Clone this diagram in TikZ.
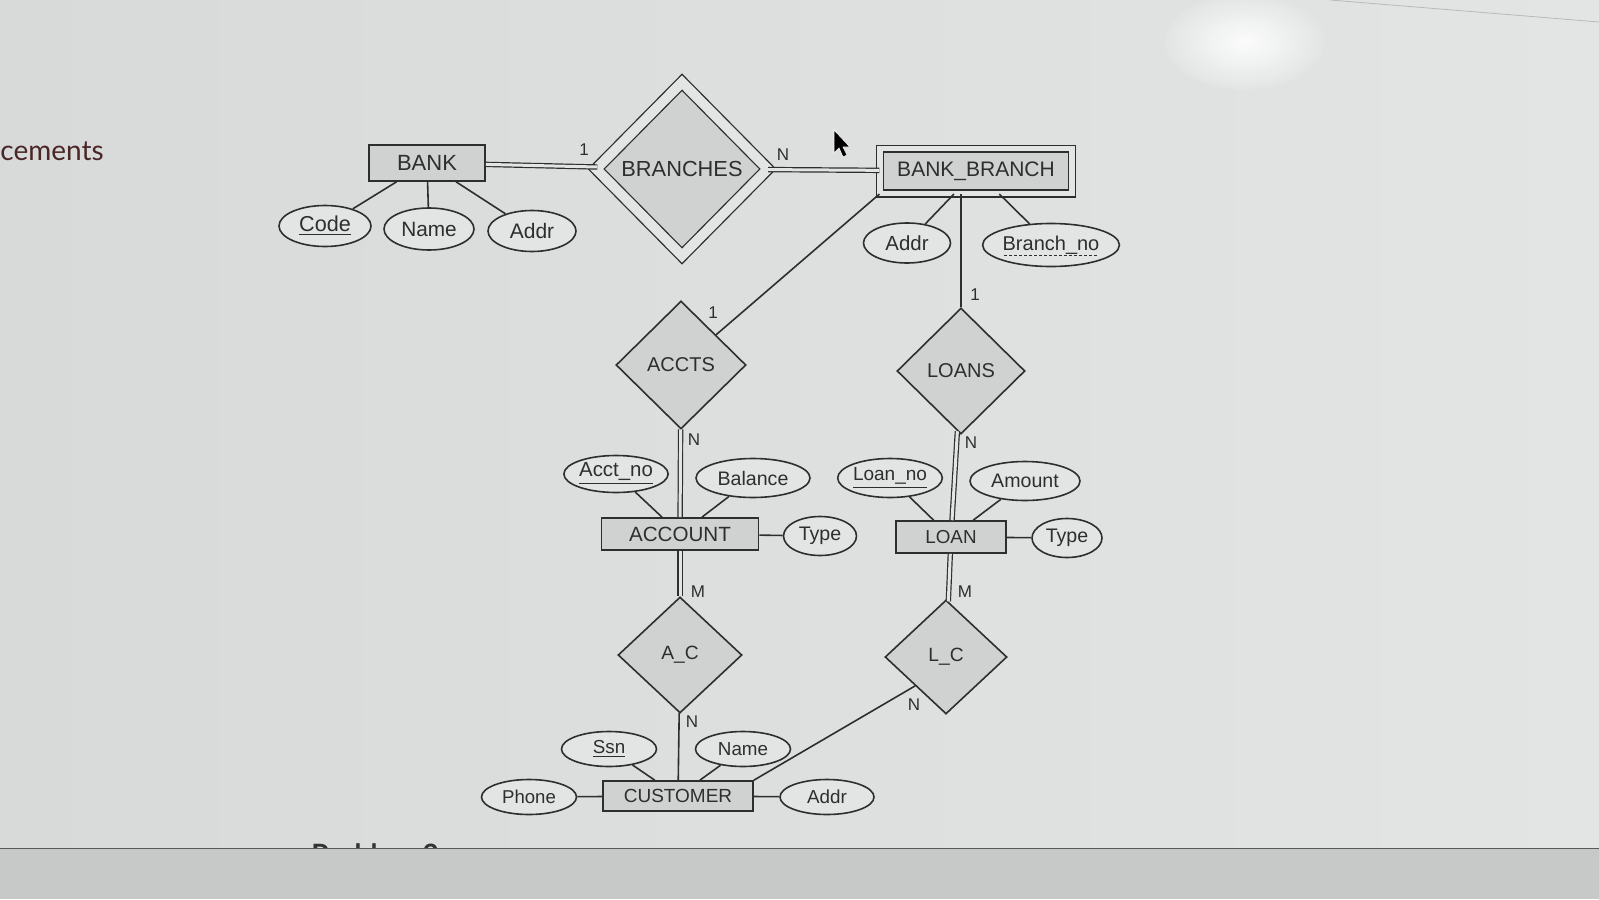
\documentclass[tikz,border=0pt]{standalone}
\usepackage{fontspec}
\setmainfont{Liberation Sans}
\newfontfamily\notefont{Lato}
\usepackage{tikz}
\usetikzlibrary{shapes.geometric,positioning}

\definecolor{paper}{HTML}{E3E5E5}
\definecolor{paperdark}{HTML}{D8DADA}
\definecolor{band}{HTML}{C7C9C9}
\definecolor{boxfill}{HTML}{D0D1D1}
\definecolor{ink}{HTML}{2E2E2E}
\definecolor{notecol}{HTML}{4A2626}

\begin{document}
\begin{tikzpicture}[x=0.5pt,y=-0.5pt,
    entity/.style={draw=ink, fill=boxfill, line width=0.8pt, inner sep=0pt, text=ink, font=\fontsize{10}{12}\selectfont},
    weakent/.style={entity, double=paper, double distance=2.8pt, line width=0.65pt},
    rel/.style={draw=ink, fill=boxfill, diamond, shape aspect=1, inner sep=0pt, line width=0.8pt, text=ink, font=\fontsize{10}{12}\selectfont},
    idrel/.style={rel, double=paper, double distance=4.9pt, line width=0.65pt},
    attr/.style={draw=ink, fill=paper, ellipse, inner sep=0pt, line width=0.8pt, text=ink, font=\fontsize{9.8}{11}\selectfont},
    card/.style={font=\fontsize{8.5}{10}\selectfont, inner sep=0pt, text=ink},
    link/.style={draw=ink, line width=0.8pt},
    total/.style={draw=ink, line width=0.6pt, double=paper, double distance=1.5pt}]
  \useasboundingbox (0,0) rectangle (1599,899);
  % screen
  \shade[left color=paperdark, right color=paper] (0,0) rectangle (1599,848);
  \shade[inner color=white, outer color=paper, opacity=0.9] (1245,42) ellipse (80 and 48);
  \draw[gray!55, line width=0.4pt] (1330,0) -- (1599,22);
  \node[anchor=base west, inner sep=0pt, font=\notefont\fontsize{14}{16}\selectfont, text=notecol] (margin) at (0,160) {cements};
  \node[anchor=base west, inner sep=0pt, font=\notefont\bfseries\fontsize{14}{16}\selectfont, text=black!80] (prob) at (311,864) {Problem 2:};
  \fill[band] (0,848) rectangle (1599,899);
  \draw[gray!70!black, line width=0.4pt] (0,848) -- (1599,848);

  % bank and branches
  \node[entity, minimum width=58pt, minimum height=18pt, font=\fontsize{11}{13}\selectfont] (bank) at (427,163) {BANK};
  \node[idrel, minimum width=86pt, minimum height=87pt, font=\fontsize{10.9}{13}\selectfont] (branches) at (682,169) {BRANCHES};
  \node[weakent, minimum width=95.9pt, minimum height=22.4pt, font=\fontsize{10.5}{12}\selectfont] (bb) at (976,171) {BANK\_BRANCH};
  \node[attr, minimum width=46pt, minimum height=20.5pt, font=\fontsize{10.8}{12}\selectfont] (bcode) at (325,226) {\underline{Code}};
  \node[attr, minimum width=45pt, minimum height=21pt, font=\fontsize{10.4}{12}\selectfont] (bname) at (429,229) {Name};
  \node[attr, minimum width=44pt, minimum height=20.5pt, font=\fontsize{10.5}{12}\selectfont] (baddr) at (532,231) {Addr};
  \node[attr, minimum width=43.5pt, minimum height=20pt, font=\fontsize{10.2}{12}\selectfont] (bbaddr) at (907,243) {Addr};
  \node[attr, minimum width=68pt, minimum height=21.5pt, font=\fontsize{10}{12}\selectfont] (bbno) at (1051,245) {Branch\_no};
  \draw[ink, line width=0.4pt, dash pattern=on 1.5pt off 1pt] ([xshift=-23.5pt,yshift=-2.5pt]bbno.base) -- ([xshift=23.5pt,yshift=-2.5pt]bbno.base);

  % accounts and loans
  \node[rel, minimum width=65pt, minimum height=64pt] (accts) at (681,365) {ACCTS};
  \node[rel, minimum width=64pt, minimum height=63pt] (loans) at (961,371) {LOANS};
  \node[entity, minimum width=78.5pt, minimum height=16pt, font=\fontsize{10.3}{12}\selectfont] (account) at (680,534) {ACCOUNT};
  \node[attr, minimum width=50pt, minimum height=18.5pt, font=\fontsize{10.2}{12}\selectfont] (acctno) at (616,474) {\underline{Acct\_no}};
  \node[attr, minimum width=57pt, minimum height=19.5pt] (balance) at (753,478) {Balance};
  \node[attr, minimum width=36.5pt, minimum height=19.5pt] (acctype) at (820,536) {Type};
  \node[entity, minimum width=55pt, minimum height=16pt, font=\fontsize{9.4}{11}\selectfont] (loan) at (951,537) {LOAN};
  \node[attr, minimum width=48pt, minimum height=19.5pt, font=\fontsize{9.5}{11}\selectfont] (loanno) at (890,478) {\underline{Loan\_no}};
  \node[attr, minimum width=55pt, minimum height=19.5pt] (amount) at (1025,481) {Amount};
  \node[attr, minimum width=35pt, minimum height=19.5pt] (loantype) at (1067,538) {Type};

  % customer
  \node[rel, minimum width=62pt, minimum height=58pt, font=\fontsize{9.6}{11}\selectfont] (ac) at (680,655) {A\_C};
  \node[rel, minimum width=61pt, minimum height=57pt, font=\fontsize{9.6}{11}\selectfont] (lc) at (946,657) {L\_C};
  \node[entity, minimum width=75pt, minimum height=15pt, font=\fontsize{9.5}{11}\selectfont] (customer) at (678,796) {CUSTOMER};
  \node[attr, minimum width=47.5pt, minimum height=17.5pt, font=\fontsize{9.4}{11}\selectfont] (ssn) at (609,749) {\underline{Ssn}};
  \node[attr, minimum width=47.5pt, minimum height=17.5pt, font=\fontsize{9.4}{11}\selectfont] (cname) at (743,749) {Name};
  \node[attr, minimum width=47.5pt, minimum height=17.5pt, font=\fontsize{9.3}{11}\selectfont] (phone) at (529,797) {Phone};
  \node[attr, minimum width=47pt, minimum height=17.5pt, font=\fontsize{9.4}{11}\selectfont] (caddr) at (827,797) {Addr};

  % connectors
  \draw[total] (bank) -- (branches);
  \draw[total] (branches) -- (bb);
  \draw[link] (bank) -- (bcode);
  \draw[link] (bank) -- (bname);
  \draw[link] (bank) -- (baddr);
  \draw[link] (bb) -- (bbaddr);
  \draw[link] (bb) -- (bbno);
  \draw[link] (bb.south west) -- (accts);
  \draw[link] (loans.north) -- (loans.north |- bb.south);
  \draw[total] (accts) -- (account);
  \draw[total] (loans) -- (loan);
  \draw[link] (account) -- (acctno);
  \draw[link] (account) -- (balance);
  \draw[link] (account) -- (acctype);
  \draw[link] (loan) -- (loanno);
  \draw[link] (loan) -- (amount);
  \draw[link] (loan) -- (loantype);
  \draw[total] (account) -- (ac);
  \draw[total] (loan) -- (lc);
  \draw[link] (ac) -- (customer);
  \draw[link] (customer.north east) -- (lc.south west);
  \draw[link] (customer) -- (ssn);
  \draw[link] (customer) -- (cname);
  \draw[link] (customer) -- (phone);
  \draw[link] (customer) -- (caddr);

  % cardinalities
  \node[card] (k1) at (584,150) {1};
  \node[card] (k2) at (783,155) {N};
  \node[card] (k3) at (713,313) {1};
  \node[card] (k4) at (975,295) {1};
  \node[card] (k5) at (694,440) {N};
  \node[card] (k6) at (971,443) {N};
  \node[card] (k7) at (698,592) {M};
  \node[card] (k8) at (965,592) {M};
  \node[card] (k9) at (692,722) {N};
  \node[card] (k10) at (914,705) {N};

  % pointer
  \filldraw[fill=black, draw=white, line width=0.3pt] (834,130) -- (834,153) -- (839,148) -- (843,157) -- (847,155) -- (843,147) -- (850,147) -- cycle;
\end{tikzpicture}
\end{document}
